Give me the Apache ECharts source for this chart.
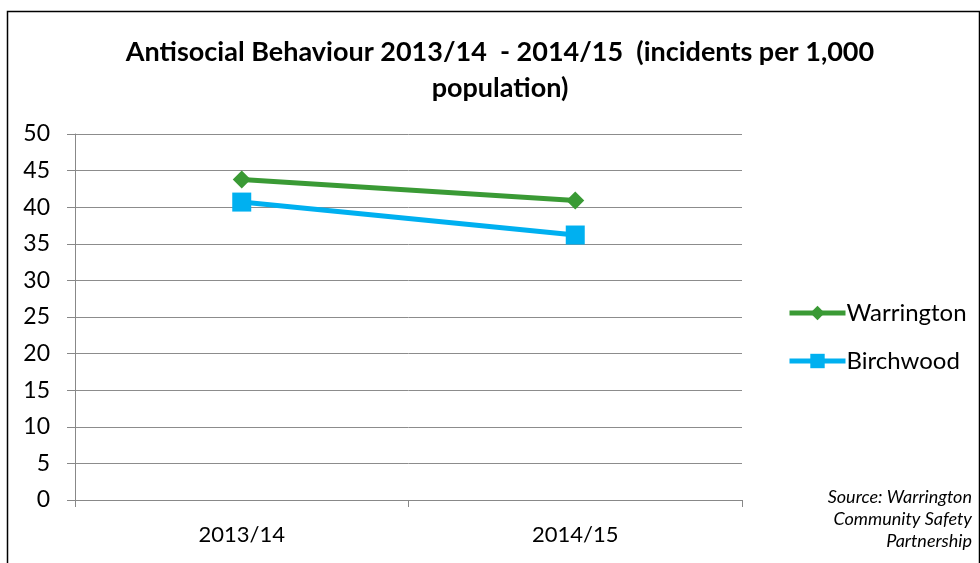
<!DOCTYPE html>
<html><head><meta charset="utf-8">
<script src="https://cdn.jsdelivr.net/npm/echarts@6/dist/echarts.min.js"></script>
<style>html,body{margin:0;padding:0;background:#fff}#c{width:980px;height:563px}</style>
</head><body><div id="c"></div>
<script>
const categories = ['2013/14', '2014/15'];
const warrington = [43.8, 40.9];
const birchwood = [40.7, 36.2];
const yTicks = [0, 5, 10, 15, 20, 25, 30, 35, 40, 45, 50];
const titleLines = ['Antisocial Behaviour 2013/14  - 2014/15  (incidents per 1,000', 'population)'];
const sourceLines = ['Source: Warrington', 'Community Safety', 'Partnership'];

const F = 'Lato, "Open Sans", sans-serif';
const chart = echarts.init(document.getElementById('c'));
chart.setOption({
  animation: false,
  grid: {left: 75, right: 238, top: 134, bottom: 63},
  legend: {
    orient: 'vertical', left: 782, top: 296, itemGap: 24, itemWidth: 56, itemHeight: 18,
    textStyle: {fontFamily: F, fontSize: 24, color: '#000', padding: [0, 0, 0, -4]},
    lineStyle: {width: 5},
    data: ['Warrington', 'Birchwood']
  },
  xAxis: {
    type: 'category', data: categories, boundaryGap: true,
    axisLine: {lineStyle: {color: '#888', width: 1}},
    axisTick: {show: true, length: 7, lineStyle: {color: '#888'}},
    axisLabel: {fontFamily: F, fontSize: 22, color: '#000', margin: 24}
  },
  yAxis: {
    type: 'value', min: yTicks[0], max: yTicks[yTicks.length - 1], interval: 5,
    axisLine: {show: true, lineStyle: {color: '#888', width: 1}},
    axisTick: {show: true, length: 8, lineStyle: {color: '#888'}},
    splitLine: {lineStyle: {color: '#8c8c8c', width: 1}},
    axisLabel: {fontFamily: F, fontSize: 23, color: '#000', margin: 25}
  },
  series: [
    {name: 'Warrington', type: 'line', data: warrington, symbol: 'diamond', symbolSize: 18,
     lineStyle: {color: '#3a9a35', width: 5}, itemStyle: {color: '#3a9a35'}},
    {name: 'Birchwood', type: 'line', data: birchwood, symbol: 'rect', symbolSize: 19,
     lineStyle: {color: '#00b0f0', width: 5}, itemStyle: {color: '#00b0f0'}}
  ],
  graphic: [
    {type: 'rect', left: 5, top: 9, shape: {width: 972, height: 570},
     style: {fill: 'none', stroke: '#000', lineWidth: 1.5}, silent: true}
  ].concat(titleLines.map((t, i) => ({
    type: 'text', x: 500, y: 52 + i * 36,
    style: {text: t, fontFamily: F, fontWeight: 'bold', fontSize: 27, fill: '#000', align: 'center', verticalAlign: 'middle'}
  }))).concat(sourceLines.map((t, i) => ({
    type: 'text', right: 8, top: 488 + i * 22,
    style: {text: t, fontFamily: F, fontStyle: 'italic', fontSize: 18, fill: '#000'}
  })))
});
</script></body></html>
